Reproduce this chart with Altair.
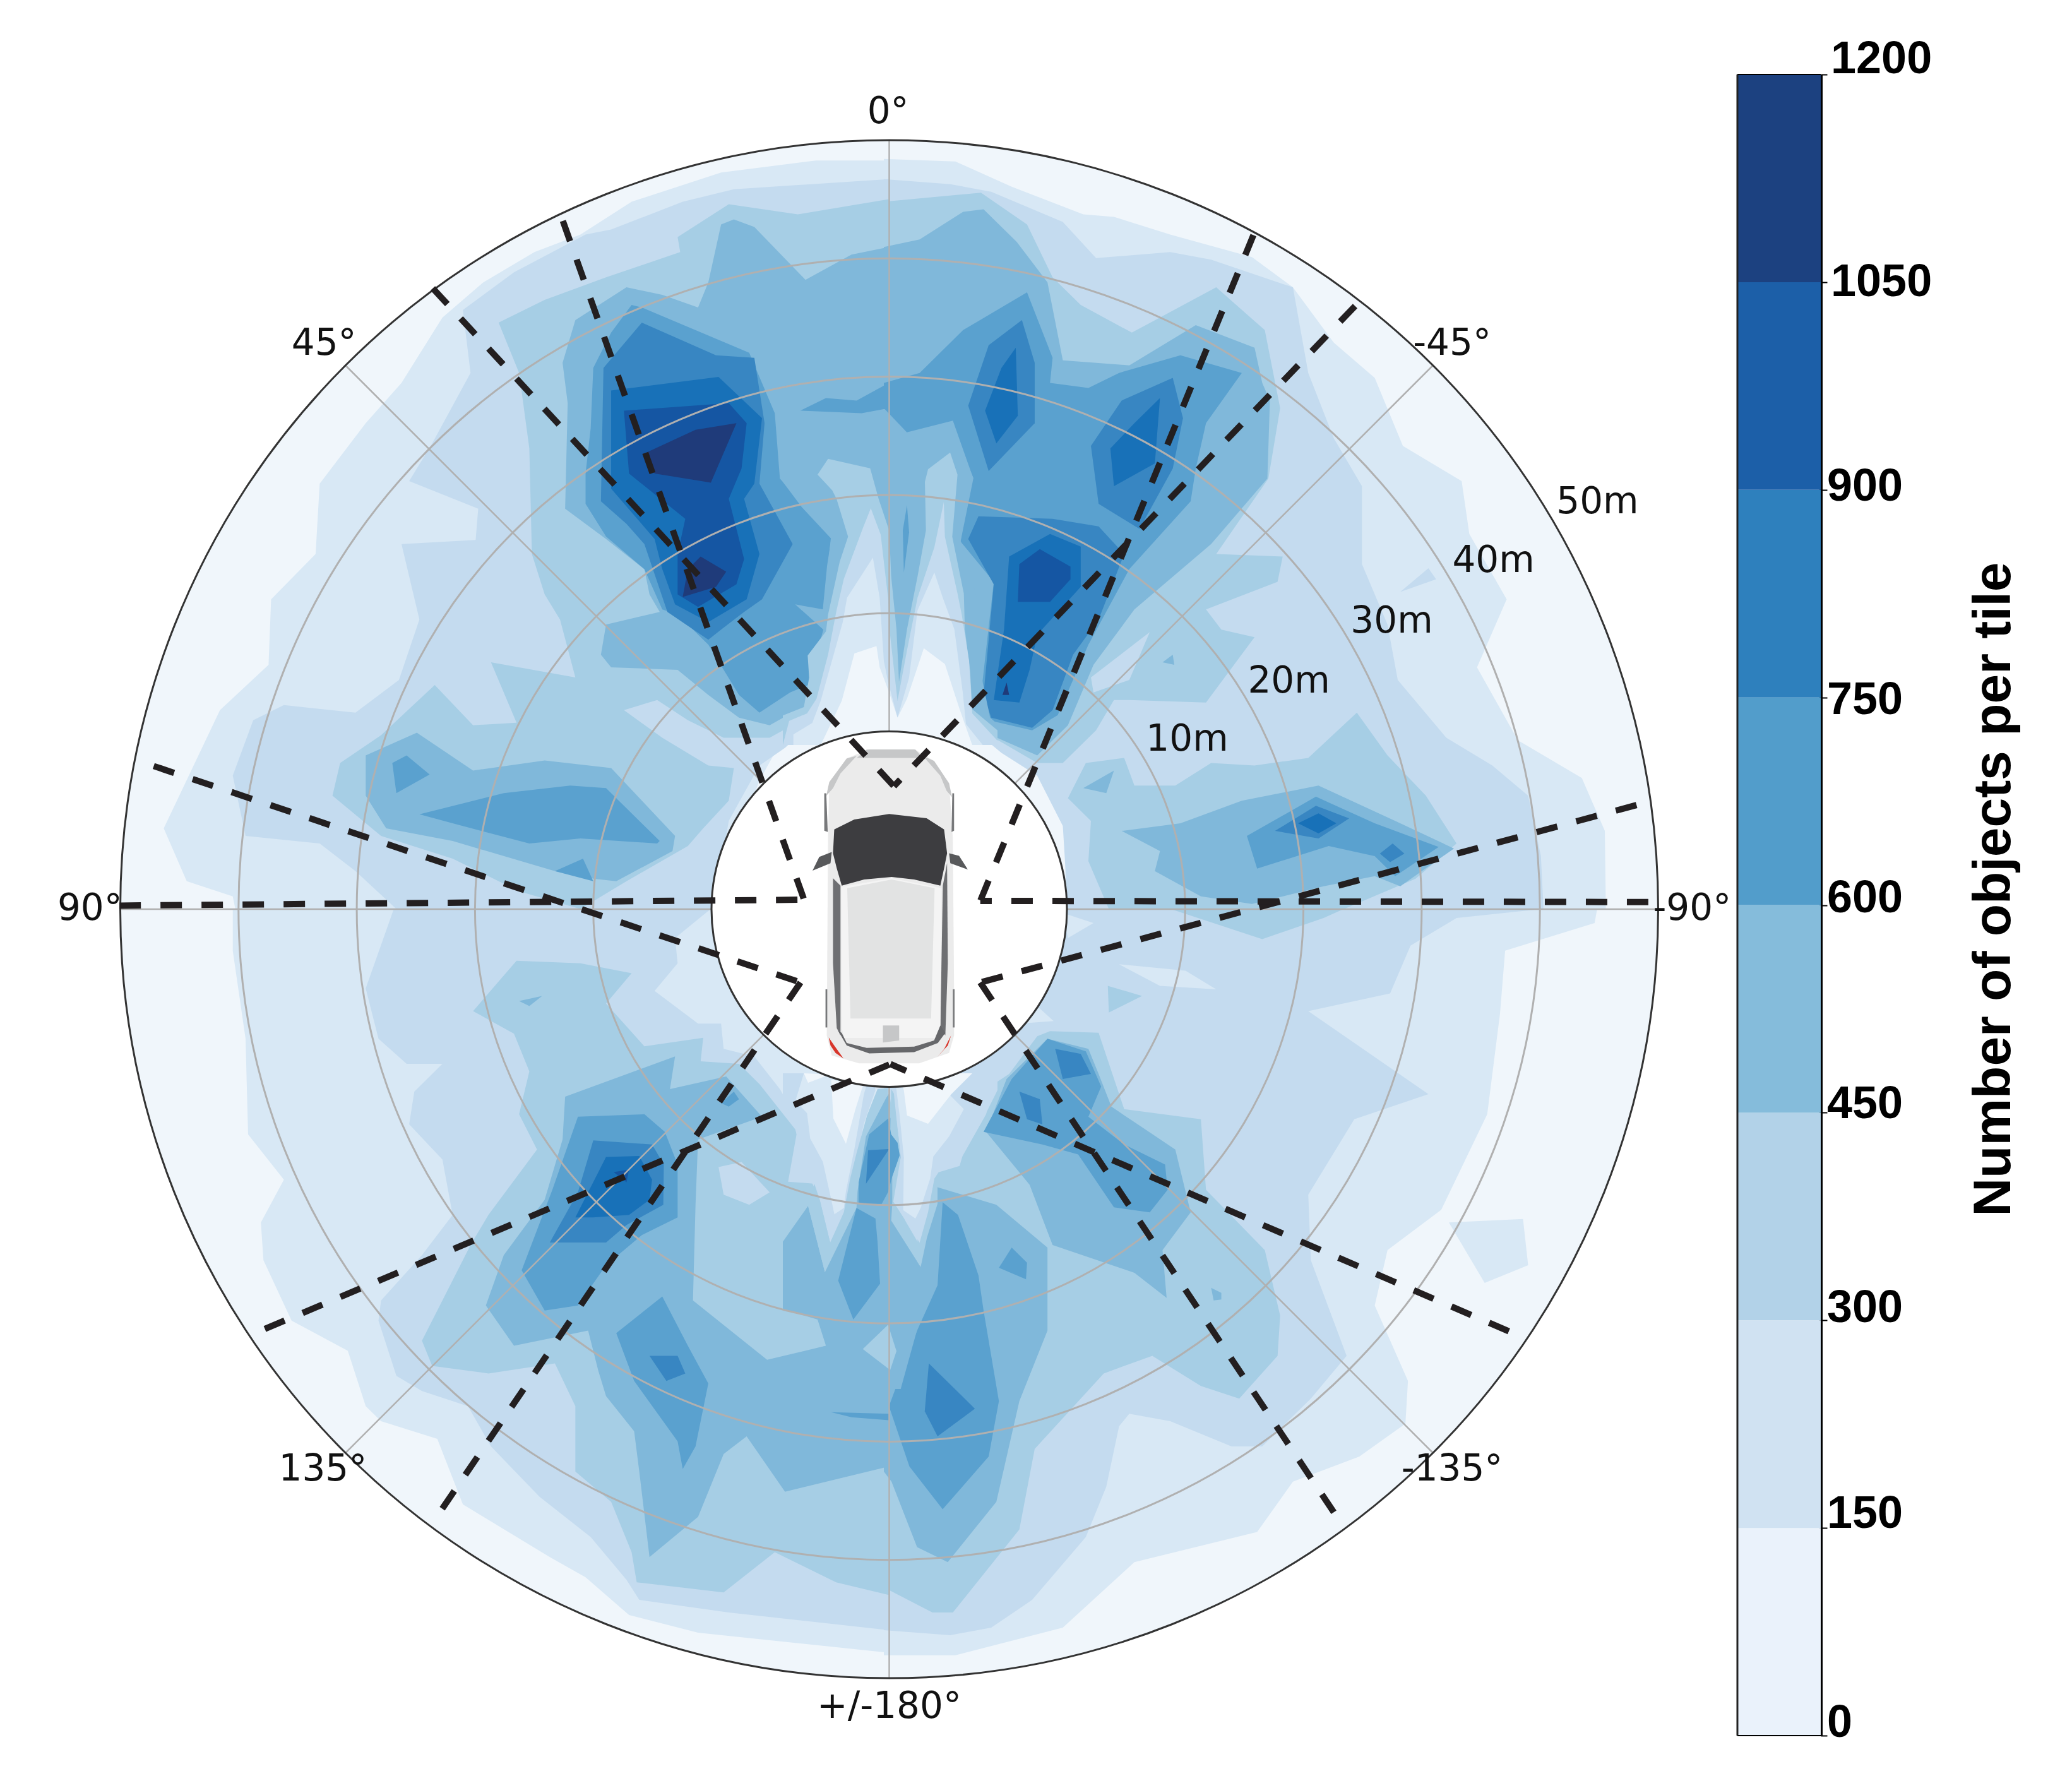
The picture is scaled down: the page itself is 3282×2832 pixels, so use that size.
import altair as alt
import pandas as pd
import math

# Contour vertices, one list per quadrant.
# Each entry: (paint rank, contour band, vertices in that quadrant's trace units).
nw_shapes = [
    (2, 2, [(1553,68),(1410,68),(1225,92),(1050,150),(950,215),(860,250),(760,310),(680,380),(600,510),(530,590),(440,710),(432,850),(345,940),(340,1070),(245,1160),(135,1395),(180,1500),(270,1530),(275,1555),(1205,1555),(1300,1300),(1330,1245),(1400,1190),(1470,1150),(1485,1070),(1530,1030),(1553,1020)]),
    (3, 3, [(1553,105),(1250,125),(1150,150),(1010,205),(960,215),(820,290),(720,365),(735,490),(660,630),(615,705),(750,760),(745,822),(600,830),(635,980),(595,1100),(510,1165),(370,1150),(310,1180),(270,1290),(295,1410),(440,1425),(510,1480),(590,1555),(1210,1555),(1240,1380),(1300,1270),(1350,1235),(1430,1160),(1470,1060),(1500,1000),(1505,880),(1530,830),(1553,900)]),
    (4, 4, [(1553,145),(1375,175),(1240,155),(1140,220),(1145,250),(1000,300),(880,345),(790,390),(830,490),(850,640),(855,850),(880,930),(910,980),(940,1095),(775,1065),(825,1185),(740,1190),(665,1110),(560,1210),(480,1265),(465,1330),(560,1410),(700,1455),(830,1520),(950,1555),(1040,1500),(1160,1430),(1190,1395),(1240,1340),(1250,1275),(1200,1270),(1110,1215),(1035,1160),(1100,1140),(1160,1180),(1230,1215),(1320,1215),(1400,1170),(1440,1080),(1470,1000),(1495,880),(1490,850),(1525,790),(1553,850)]),
    (5, 5, [(1553,240),(1480,255),(1390,305),(1290,200),(1250,185),(1225,195),(1200,310),(1180,360),(1110,335),(1040,320),(940,385),(915,470),(925,550),(920,760),(1000,820),(1075,880),(1085,930),(1105,965),(1000,990),(990,1050),(1010,1075),(1140,1080),(1200,1130),(1260,1175),(1320,1190),(1390,1150),(1420,1080),(1450,1000),(1480,860),(1475,820),(1520,760),(1553,800)]),
    (5, 5, [(530,1250),(630,1205),(740,1280),(880,1260),(1010,1275),(1135,1410),(1130,1440),(1020,1500),(975,1495),(900,1480),(700,1420),(570,1395),(530,1330)]),
    (6, 6, [(1050,355),(1070,360),(1280,450),(1330,570),(1340,700),(1440,815),(1425,960),(1370,950),(1425,1000),(1395,1110),(1360,1125),(1300,1165),(1260,1130),(1200,1030),(1140,970),(1110,960),(1075,880),(1000,815),(960,750),(960,690),(970,600),(975,480),(1010,410)]),
    (6, 6, [(1380,565),(1430,540),(1490,545),(1553,510),(1553,560),(1500,570)]),
    (6, 6, [(635,1367),(800,1325),(930,1310),(1000,1315),(1105,1420),(1100,1425),(950,1415),(850,1425),(700,1385)]),
    (6, 6, [(582,1265),(610,1250),(655,1288),(590,1325)]),
    (6, 6, [(900,1480),(955,1455),(975,1500)]),
    (7, 7, [(1070,390),(1215,455),(1290,460),(1310,590),(1300,710),(1365,830),(1305,940),(1270,965),(1225,1000),(1200,1020),(1120,965),(1075,830),(1040,790),(990,745),(995,480)]),
    (8, 8, [(1010,525),(1220,498),(1305,580),(1290,710),(1270,740),(1300,850),(1275,940),(1200,985),(1135,950),(1110,880),(1095,820),(1010,720)]),
    (9, 9, [(1035,565),(1240,550),(1275,590),(1265,680),(1240,740),(1270,860),(1255,910),(1180,955),(1140,930),(1140,850),(1155,780),(1045,690)]),
    (10, 10, [(1075,650),(1175,603),(1255,590),(1205,708),(1095,690)]),
    (10, 10, [(1185,855),(1235,885),(1215,915),(1150,935),(1160,880)]),
]

ne_shapes = [
    (2, 2, [(0,65),(140,70),(250,120),(390,175),(450,180),(560,215),(720,260),(800,320),(880,430),(960,500),(1015,635),(1130,705),(1145,810),(1218,940),(1160,1075),(1240,1220),(1365,1295),(1410,1400),(1412,1555),(355,1555),(355,1400),(300,1290),(240,1250),(170,1190),(130,1130),(80,1035),(60,1090),(40,1175),(25,1190),(0,1170)]),
    (3, 3, [(0,105),(130,115),(210,130),(350,190),(415,262),(560,250),(640,265),(800,320),(830,490),(880,620),(935,715),(935,870),(985,990),(1005,1100),(1100,1215),(1190,1270),(1260,1330),(1285,1450),(1290,1555),(360,1555),(350,1390),(300,1290),(230,1245),(165,1190),(135,1100),(110,990),(97,890),(65,1040),(42,1170),(30,1180),(0,1150)]),
    (3, 3, [(1010,925),(1065,878),(1080,900)]),
    (4, 4, [(0,150),(190,132),(280,195),(330,300),(385,355),(485,410),(650,320),(745,405),(775,560),(752,700),(650,850),(780,855),(770,905),(630,960),(660,1000),(725,1015),(630,1145),(480,1140),(450,1140),(415,1200),(350,1265),(300,1265),(190,1200),(145,1130),(122,1000),(115,780),(100,880),(70,1040),(30,1150),(10,960),(0,900)]),
    (4, 4, [(360,1335),(395,1265),(470,1255),(490,1310),(570,1310),(640,1265),(725,1270),(830,1255),(925,1165),(985,1250),(1060,1330),(1120,1425),(1040,1495),(900,1555),(440,1555),(400,1460),(405,1380)]),
    (4.5, 3, [(520,1005),(480,1100),(410,1125),(405,1095)]),
    (5, 5, [(0,240),(70,225),(155,170),(195,165),(260,230),(320,310),(350,465),(480,475),(610,395),(725,440),(740,510),(755,545),(750,700),(640,830),(490,960),(410,1070),(360,1190),(300,1250),(210,1210),(165,1145),(135,1000),(120,750),(145,700),(130,650),(85,680),(78,720),(55,850),(45,1000),(32,1100),(20,1000),(12,740),(0,700)]),
    (5, 5, [(465,1400),(580,1385),(700,1340),(850,1310),(1000,1380),(1115,1435),(1010,1510),(960,1490),(860,1510),(720,1545),(620,1530),(530,1480),(540,1440)]),
    (5, 5, [(390,1315),(450,1280),(435,1325)]),
    (5, 5, [(545,1065),(565,1050),(568,1070)]),
    (6, 6, [(0,510),(70,490),(155,405),(280,330),(330,460),(325,510),(400,520),(460,490),(580,455),(700,490),(630,590),(610,680),(600,745),(480,880),(400,1030),(340,1170),(290,1200),(205,1180),(190,1130),(215,905),(150,825),(175,700),(135,585),(45,608),(0,560)]),
    (6, 6, [(710,1410),(845,1332),(960,1385),(1085,1432),(1000,1490),(960,1450),(870,1430),(730,1475)]),
    (7, 7, [(270,385),(295,470),(295,590),(205,685),(165,555),(205,435)]),
    (7, 7, [(565,500),(585,580),(565,680),(500,800),(420,750),(405,635),(465,545)]),
    (7, 7, [(165,820),(185,775),(330,780),(420,795),(470,850),(420,980),(370,1050),(330,1160),(290,1195),(210,1175),(195,1130),(215,910)]),
    (7, 7, [(765,1400),(845,1350),(910,1375),(850,1415)]),
    (7, 7, [(970,1445),(995,1425),(1018,1445),(990,1462)]),
    (8, 8, [(258,440),(262,575),(220,630),(198,565),(230,480)]),
    (8, 8, [(540,540),(530,670),(450,715),(443,640),(490,590)]),
    (8, 8, [(245,855),(325,810),(385,835),(385,915),(300,1010),(285,1080),(265,1145),(215,1140),(235,1000)]),
    (8, 8, [(810,1385),(850,1365),(885,1385),(850,1405)]),
    (9, 9, [(305,840),(365,875),(365,900),(325,945),(262,945),(265,870)]),
    (10, 10, [(232,1130),(240,1105),(245,1130)]),
]

sw_shapes = [
    (2, 2, [(270,12),(270,95),(295,270),(300,460),(370,550),(325,635),(330,710),(385,830),(495,890),(530,1000),(560,1030),(670,1065),(720,1195),(890,1300),(960,1340),(1045,1415),(1180,1450),(1553,1490),(1553,360),(1210,12)]),
    (2.5, 1, [(1410,370),(1480,370),(1470,480),(1420,410)]),
    (3, 3, [(585,12),(530,170),(555,270),(610,320),(680,320),(625,375),(615,440),(680,510),(700,620),(640,700),(560,790),(555,830),(590,940),(640,970),(730,1000),(775,1080),(870,1180),(970,1260),(1040,1345),(1065,1385),(1240,1410),(1553,1445),(1553,560),(1495,500),(1470,470),(1445,610),(1415,520),(1380,440),(1340,370),(1290,305),(1230,290),(1225,240),(1180,240),(1095,175),(1140,120),(1135,70),(1205,12)]),
    (4, 4, [(825,115),(950,120),(1050,140),(1000,200),(1075,285),(1190,268),(1185,315),(1260,320),(1300,360),(1370,450),(1400,550),(1450,660),(1490,520),(1510,430),(1553,380),(1553,1375),(1450,1350),(1330,1290),(1230,1370),(1060,1350),(1050,1290),(1010,1190),(940,1130),(940,1000),(900,915),(770,935),(660,920),(640,870),(735,680),(770,620),(865,490),(830,420),(850,335),(820,260),(740,215)]),
    (5, 5, [(1553,380),(1510,440),(1490,560),(1447,680),(1430,740),(1430,880),(1315,908),(1170,790),(1175,600),(1180,470),(1305,425),(1235,345),(1125,370),(1135,305),(920,385),(915,470),(880,590),(800,700),(765,800),(820,880),(965,850),(985,930),(1000,980),(1055,1050),(1065,1130),(1085,1300),(1180,1220),(1230,1095),(1275,1060),(1350,1170),(1553,1120)]),
    (5, 5, [(830,195),(875,185),(850,205)]),
    (5.5, 3, [(1220,525),(1265,515),(1320,575),(1280,600),(1230,580)]),
    (6, 6, [(945,425),(1075,420),(1115,455),(1140,520),(1140,625),(1070,660),(1000,720),(945,800),(880,810),(835,730),(895,570)]),
    (6, 6, [(1020,855),(1110,782),(1160,880),(1200,955),(1175,1080),(1150,1125),(1140,1070),(1055,950)]),
    (6, 6, [(1440,1012),(1553,1015),(1553,1028),(1480,1022)]),
    (6, 6, [(1225,398),(1250,375),(1260,390),(1240,405)]),
    (7, 7, [(975,472),(1090,480),(1113,520),(1112,600),(1040,640),(1000,675),(890,675),(945,575)]),
    (7, 7, [(1085,900),(1140,900),(1155,935),(1118,950)]),
    (8, 8, [(1000,505),(1065,503),(1090,550),(1085,590),(1045,620),(975,625),(940,625)]),
    (9, 9, [(1015,535),(1045,530),(1040,555)]),
]

se_shapes = [
    (2, 2, [(1395,12),(1390,40),(1215,95),(1205,220),(1180,420),(1090,610),(985,690),(960,800),(1025,950),(1020,1035),(930,1100),(800,1150),(730,1250),(490,1310),(350,1440),(140,1495),(0,1495),(0,12)]),
    (2, 2, [(1105,635),(1250,628),(1260,720),(1175,755)]),
    (3, 3, [(1290,12),(1120,30),(1030,85),(990,180),(830,215),(1065,380),(920,430),(830,580),(835,710),(905,900),(835,985),(740,1080),(680,1080),(560,1030),(480,1015),(460,1040),(435,1160),(395,1260),(290,1385),(210,1440),(130,1455),(0,1445),(0,12)]),
    (3.3, 2, [(350,20),(410,40),(360,70)]),
    (3.3, 2, [(460,122),(590,135),(650,172),(540,165)]),
    (3.3, 2, [(300,205),(332,235),(265,240)]),
    (4, 4, [(300,265),(325,255),(420,258),(470,410),(620,430),(630,570),(745,690),(775,820),(770,900),(695,985),(620,960),(525,900),(430,935),(295,1085),(265,1245),(135,1410),(95,1410),(0,1360),(0,380),(11,380),(20,440),(38,620),(70,725),(100,535),(150,510),(200,420),(215,360),(245,340)]),
    (4, 4, [(560,12),(740,72),(860,30),(900,12)]),
    (4, 4, [(438,165),(505,185),(440,218)]),
    (5, 5, [(105,565),(220,600),(320,685),(320,850),(265,990),(220,1190),(125,1310),(65,1280),(15,1150),(0,1130),(0,930),(35,880),(70,720)]),
    (5, 5, [(200,455),(240,350),(320,270),(400,290),(420,340),(445,405),(570,490),(600,615),(545,690),(553,785),(490,735),(330,680),(285,560)]),
    (5, 5, [(640,765),(660,775),(660,788),(645,790)]),
    (6, 6, [(115,595),(145,620),(185,740),(195,810),(225,990),(205,1100),(115,1205),(50,1120),(10,1000),(65,850),(105,760)]),
    (6, 6, [(250,685),(280,715),(278,748),(225,725)]),
    (6, 6, [(195,455),(250,350),(320,270),(395,295),(425,365),(400,425),(470,480),(550,520),(555,570),(520,615),(450,605),(380,500),(310,480)]),
    (7, 7, [(335,290),(385,300),(405,340),(350,350)]),
    (7, 7, [(265,375),(305,390),(310,440),(280,430)]),
    (7, 7, [(88,915),(178,1005),(105,1060),(80,1010)]),
]

# Finer tracing of the narrow bands straight ahead of and behind the car.
front_shapes = [
    (11, 5, [(0,60),(835,60),(905,230),(875,340),(845,530),(885,650),(920,800),(945,950),(945,1180),(985,1370),(1020,1400),(1020,1500),(0,1500),(0,1330),(100,1280),(130,1190),(120,1080),(205,960),(190,855),(210,650),(230,520),(90,370),(0,250)]),
    (12, 4, [(165,215),(215,140),(415,185),(455,330),(505,480),(515,700),(540,950),(552,1200),(590,950),(640,700),(680,480),(675,250),(690,190),(795,110),(830,215),(805,510),(860,780),(865,950),(890,1150),(900,1330),(1020,1430),(1020,1500),(0,1500),(0,1360),(100,1320),(125,1180),(118,1075),(205,960),(215,880),(270,630),(310,510),(255,330),(235,290)]),
    (13, 3, [(418,375),(465,500),(500,800),(510,980),(545,1290),(590,1050),(640,800),(720,560),(765,345),(770,510),(830,780),(850,880),(885,1100),(900,1350),(1020,1480),(1020,1500),(0,1500),(30,1385),(115,1350),(160,1280),(215,1070),(255,860),(290,710),(380,470)]),
    (14, 2, [(428,610),(460,800),(480,1100),(500,1200),(545,1370),(600,1180),(640,860),(720,680),(760,800),(815,950),(855,1250),(870,1400),(950,1500),(50,1500),(50,1450),(140,1395),(180,1290),(285,915),(305,800)]),
    (15, 1, [(340,1065),(445,1030),(460,1130),(505,1250),(545,1370),(590,1280),(670,1040),(770,1115),(840,1330),(900,1500),(180,1500),(280,1290)]),
    (16, 6, [(590,360),(570,480),(575,680),(600,490)]),
]

rear_shapes = [
    (11, 5, [(0,800),(120,630),(200,945),(225,810),(350,640),(360,500),(390,300),(415,270),(510,210),(560,300),(580,380),(520,620),(520,700),(655,920),(690,770),(735,620),(735,1000),(650,1175),(560,1500),(0,1500),(0,1350),(205,1295),(165,1170),(0,1120)]),
    (11.5, 4, [(380,1310),(500,1195),(540,1320),(510,1410)]),
    (12, 3, [(25,515),(155,525),(175,600),(225,805),(295,660),(330,500),(385,240),(440,80),(430,0),(0,0),(0,150),(50,195),(65,290)]),
    (13, 4, [(150,525),(120,630),(200,945),(350,640),(355,560),(395,300),(500,100),(500,70),(450,75),(400,200),(350,380),(320,500),(290,660),(225,805),(175,600)]),
    (14, 2, [(130,310),(190,420),(230,600),(245,670),(290,640),(300,560),(340,360),(385,100),(415,0),(100,0),(60,130),(115,190)]),
    (15, 1, [(100,0),(120,45),(225,5)]),
    (15, 1, [(230,30),(380,60),(345,170),(300,335),(240,215)]),
    (16, 4, [(520,620),(515,700),(655,920),(685,780),(735,620),(735,545),(700,560),(640,700),(640,800),(570,680),(560,400),(530,100),(515,75),(510,300),(545,330),(555,390),(520,490)]),
    (17, 3, [(570,680),(650,805),(690,660),(720,500),(740,470),(840,440),(880,300),(960,200),(1020,80),(1020,0),(520,0),(530,120),(560,400),(525,610)]),
    (18, 2, [(572,650),(630,690),(655,640),(700,500),(715,395),(790,300),(860,170),(790,100),(880,0),(530,0),(555,200),(575,400)]),
    (19, 1, [(575,80),(590,200),(690,240),(800,100),(900,0),(550,0)]),
    (20, 6, [(263,985),(350,640),(440,690),(450,800),(462,1000),(335,1170)]),
    (20, 6, [(360,620),(360,520),(410,290),(500,215),(515,290),(545,330),(555,390),(520,490),(500,565),(470,620)]),
    (21, 7, [(405,365),(505,360),(395,525)]),
]

# Car outline parts, traced in the trace units of the central view.
car_shapes = [
    ("body", [(700,143),(880,143),(960,190),(1020,280),(1035,500),(1040,1100),(1040,1290),(1020,1360),(900,1402),(660,1402),(550,1370),(530,1290),(535,500),(540,280),(610,180)]),
    ("trim", [(690,145),(885,145),(915,178),(650,178)]),
    ("trim", [(610,180),(650,170),(585,240),(555,300),(528,330),(540,275)]),
    ("trim", [(960,190),(915,170),(985,250),(1010,310),(1032,335),(1020,280)]),
    ("dark", [(520,320),(528,320),(534,475),(520,470)]),
    ("dark", [(1033,320),(1040,320),(1040,470),(1030,475)]),
    ("dark", [(525,1105),(532,1105),(532,1258),(525,1258)]),
    ("dark", [(1035,1105),(1042,1105),(1042,1258),(1035,1258)]),
    ("side", [(555,660),(585,690),(585,1290),(570,1260),(555,1000)]),
    ("side", [(995,690),(1012,600),(1015,1000),(1005,1290),(985,1260)]),
    ("frame", [(588,695),(790,660),(990,700),(985,1260),(975,1300),(600,1300),(590,1260)]),
    ("rearglass", [(575,1270),(610,1330),(700,1362),(880,1357),(975,1320),(1005,1280),(985,1250),(960,1310),(880,1335),(690,1340),(610,1320),(590,1280)]),
    ("roof", [(612,700),(790,665),(962,700),(948,1222),(625,1222)]),
    ("trim", [(755,1250),(820,1250),(820,1310),(755,1318)]),
    ("glass", [(640,425),(780,403),(930,420),(1000,465),(1012,560),(1000,620),(985,690),(880,665),(790,655),(680,665),(590,690),(570,620),(555,560),(560,465)]),
    ("mirror", [(473,630),(500,575),(550,555),(545,600)]),
    ("mirror", [(1020,560),(1060,570),(1095,625),(1025,600)]),
    ("lamp", [(538,1298),(560,1330),(597,1382),(565,1360),(545,1330)]),
    ("lamp", [(1028,1290),(1015,1330),(973,1375),(1000,1345)]),
]

# Sensor field-of-view boundaries: each arm runs from its outer end to its corner.
sensor_lines = [
    [(-65.1,0.3),(-7.2,0.8)],
    [(-27.6,58.2),(-7.2,0.8)],
    [(-62.2,12.1),(-7.5,-6.2)],
    [(-37.8,-50.7),(-7.5,-6.2)],
    [(-52.8,-35.5),(0.1,-13.1)],
    [(52.4,-35.7),(0.1,-13.1)],
    [(37.6,-51.0),(7.7,-6.2)],
    [(63.2,8.8),(7.7,-6.2)],
    [(64.2,0.6),(7.7,0.7)],
    [(30.8,57.0),(7.7,0.7)],
    [(-38.6,52.5),(0.4,10.4)],
    [(39.4,51.0),(0.4,10.4)],
]

ring_ranges = [10, 20, 30, 40]
spoke_angles = [0, 45, 90, 135, 180, 225, 270, 315]
polar_labels = ["0°", "45°", "90°", "135°", "+/-180°", "-135°", "-90°", "-45°"]
polar_label_x = [-0.1, -47.8, -67.6, -47.9, 0.0, 47.6, 67.9, 47.6]
polar_label_y = [67.4, 47.8, 0.0, -47.4, -67.5, -47.4, 0.0, 47.8]
range_labels = ["10m", "20m", "30m", "40m", "50m"]
range_label_x = [25.2, 33.8, 42.5, 51.1, 59.9]
range_label_y = [14.3, 19.2, 24.3, 29.4, 34.4]

band_low = [0, 150, 300, 450, 600, 750, 900, 1050]
band_high = [150, 300, 450, 600, 750, 900, 1050, 1200]
band_colors = ["#eaf2fb", "#d0e2f2", "#b2d2e8", "#85bcdb", "#529dcb", "#2e80bd", "#1c5fa8", "#1c4180"]
tick_values = [0, 150, 300, 450, 600, 750, 900, 1050, 1200]
tick_labels = ["0", "150", "300", "450", "600", "750", "900", "1050", "1200"]
label_positions = [9, 160, 309, 456, 605, 748, 902, 1050, 1211]
label_indents = [142, 142, 142, 142, 142, 142, 142, 148, 148]

contour_colors = {1: "#f0f6fb", 2: "#d8e8f5", 3: "#c4dbef", 4: "#a6cee5", 5: "#80b8da",
                  6: "#5aa1cf", 7: "#3886c2", 8: "#1871b8", 9: "#1556a3", 10: "#1f3b7a"}
car_colors = {"body": "#ebebeb", "trim": "#c6c7c8", "dark": "#77787a", "side": "#6e6f72",
              "frame": "#f4f4f4", "rearglass": "#66676a", "roof": "#e2e3e3", "glass": "#3d3d40",
              "mirror": "#58595b", "lamp": "#d8352a"}

PX_PER_M = 18.73
CX, CY = 1408.5, 1440.0
K = 1568.0


def to_plot(X, Y):
    return (X - CX) / PX_PER_M, (CY - Y) / PX_PER_M


frames = [("nw", nw_shapes, 150, 200, K / 1270, K / 1250),
          ("ne", ne_shapes, 1400, 200, K / 1270, K / 1250),
          ("sw", sw_shapes, 150, 1430, K / 1270, K / 1250),
          ("se", se_shapes, 1400, 1430, K / 1270, K / 1250),
          ("fr", front_shapes, 1240, 680, 3.0, 3.0),
          ("re", rear_shapes, 1240, 1700, 3.0, 3.0)]

entries = []
for name, shapes, ox, oy, sx, sy in frames:
    for i, (rank, band, pts) in enumerate(shapes):
        entries.append((rank, f"{name}{i}", contour_colors[band], pts, ox, oy, sx, sy))
entries.sort(key=lambda e: e[0])

rows = []
for n, (rank, pid, color, pts, ox, oy, sx, sy) in enumerate(entries):
    for s, (u, v) in enumerate(pts):
        x, y = to_plot(ox + u / sx, oy + v / sy)
        rows.append({"pid": f"{n:03d}", "seq": s, "x": x, "y": y, "col": color})
contours = pd.DataFrame(rows)

rows = []
for n, (part, pts) in enumerate(car_shapes):
    for s, (u, v) in enumerate(pts):
        x, y = to_plot(1100 + u * 620 / K, 1130 + v * 620 / K)
        rows.append({"pid": f"{n:03d}", "seq": s, "x": x, "y": y, "col": car_colors[part]})
car = pd.DataFrame(rows)

rows = []
for n, line in enumerate(sensor_lines):
    for s, (x, y) in enumerate(line):
        rows.append({"pid": n, "seq": s, "x": x, "y": y})
sensors = pd.DataFrame(rows)

PANEL_W, PANEL_H = 2744, 2816
xscale = alt.Scale(domain=[(8 - CX) / PX_PER_M, (8 + PANEL_W - CX) / PX_PER_M], nice=False, zero=False)
yscale = alt.Scale(domain=[(CY - 8 - PANEL_H) / PX_PER_M, (CY - 8) / PX_PER_M], nice=False, zero=False)
X = alt.X("x:Q", scale=xscale, axis=None)
Y = alt.Y("y:Q", scale=yscale, axis=None)
rscale = alt.Scale(type="linear", domain=[-15.03, 50], range=[0, 1218], nice=False, zero=False)
TWO_PI = 6.28319


def disc(r, **mark):
    d = pd.DataFrame({"x": [0.0] * len(r), "y": [0.0] * len(r), "r": r})
    return alt.Chart(d).mark_arc(theta=0, theta2=TWO_PI, **mark).encode(
        x=X, y=Y, radius=alt.Radius("r:Q", scale=rscale, stack=None), radius2=alt.value(0))


def polygons(df):
    return alt.Chart(df).mark_line(strokeWidth=0, interpolate="linear").encode(
        x=X, y=Y, detail="pid:N", order="seq:Q", fill=alt.Fill("col:N", scale=None))


R_IN, R_OUT = 281.5 / PX_PER_M, 1218 / PX_PER_M
spokes = pd.DataFrame({
    "x": [R_IN * math.sin(math.radians(a)) for a in spoke_angles],
    "y": [R_IN * math.cos(math.radians(a)) for a in spoke_angles],
    "x2": [R_OUT * math.sin(math.radians(a)) for a in spoke_angles],
    "y2": [R_OUT * math.cos(math.radians(a)) for a in spoke_angles],
})

grid_color = "#b0b0b0"
polar_text = pd.DataFrame({"x": polar_label_x, "y": polar_label_y, "t": polar_labels})
range_text = pd.DataFrame({"x": range_label_x, "y": range_label_y, "t": range_labels})
txt = alt.Chart(pd.concat([polar_text, range_text])).mark_text(
    font="DejaVu Sans", fontSize=58, color="#111111", align="center", baseline="middle"
).encode(x=X, y=Y, text="t:N")

left = alt.layer(
    disc([50], fill=contour_colors[1]),
    polygons(contours),
    alt.Chart(spokes).mark_rule(color=grid_color, strokeWidth=2.5).encode(x=X, y=Y, x2="x2:Q", y2="y2:Q"),
    disc(ring_ranges, fillOpacity=0, stroke=grid_color, strokeWidth=3),
    disc([50], fillOpacity=0, stroke="#333333", strokeWidth=3),
    disc([0], fill="#ffffff", stroke="#333333", strokeWidth=3),
    polygons(car),
    alt.Chart(sensors).mark_line(color="#231f20", strokeWidth=10, strokeDash=[34, 31], interpolate="linear").encode(
        x=X, y=Y, detail="pid:N", order="seq:Q"),
    txt,
).properties(width=PANEL_W, height=PANEL_H)

cby = alt.Scale(domain=[0, 1200], range=[2749 - 8, 118 - 8], nice=False, zero=False)
bands = pd.DataFrame({"lo": band_low, "hi": band_high, "col": band_colors})
bar = alt.Chart(bands).mark_rect().encode(
    x=alt.value(0), x2=alt.value(132),
    y=alt.Y("lo:Q", scale=cby, axis=alt.Axis(
        orient="right", values=tick_values, labels=False, grid=False,
        domainColor="#000000", domainWidth=5, tickColor="#000000", tickWidth=2, tickSize=10,
        title="Number of objects per tile", titleFont="Liberation Sans", titleFontSize=84,
        titleFontWeight="bold", titleColor="#000000", titleAngle=270, titleAlign="center",
        titleBaseline="alphabetic", titleX=299, titleY=1400)),
    y2="hi:Q",
    fill=alt.Fill("col:N", scale=None),
)
edge = alt.Chart(pd.DataFrame({"lo": [0], "hi": [1200]})).mark_rule(color="#222222", strokeWidth=3).encode(
    x=alt.value(0), y=alt.Y("lo:Q", scale=cby), y2="hi:Q")
caps = alt.Chart(pd.DataFrame({"lo": [0, 1200]})).mark_rule(color="#000000", strokeWidth=2).encode(
    x=alt.value(0), x2=alt.value(132), y=alt.Y("lo:Q", scale=cby))
ticktext = alt.Chart(pd.DataFrame({"p": label_positions, "t": tick_labels, "i": label_indents})).mark_text(
    font="Liberation Sans", fontSize=72, fontWeight="bold", color="#000000", align="left", baseline="middle"
).encode(x=alt.X("i:Q", scale=None), y=alt.Y("p:Q", scale=cby), text="t:N")
colorbar = alt.layer(bar, edge, caps, ticktext).properties(width=132, height=PANEL_H)

chart = alt.hconcat(left, colorbar, spacing=0, bounds="flush").properties(padding=0).configure_view(stroke=None)
chart.save("out.html", embed_options={"renderer": "svg", "actions": False})
